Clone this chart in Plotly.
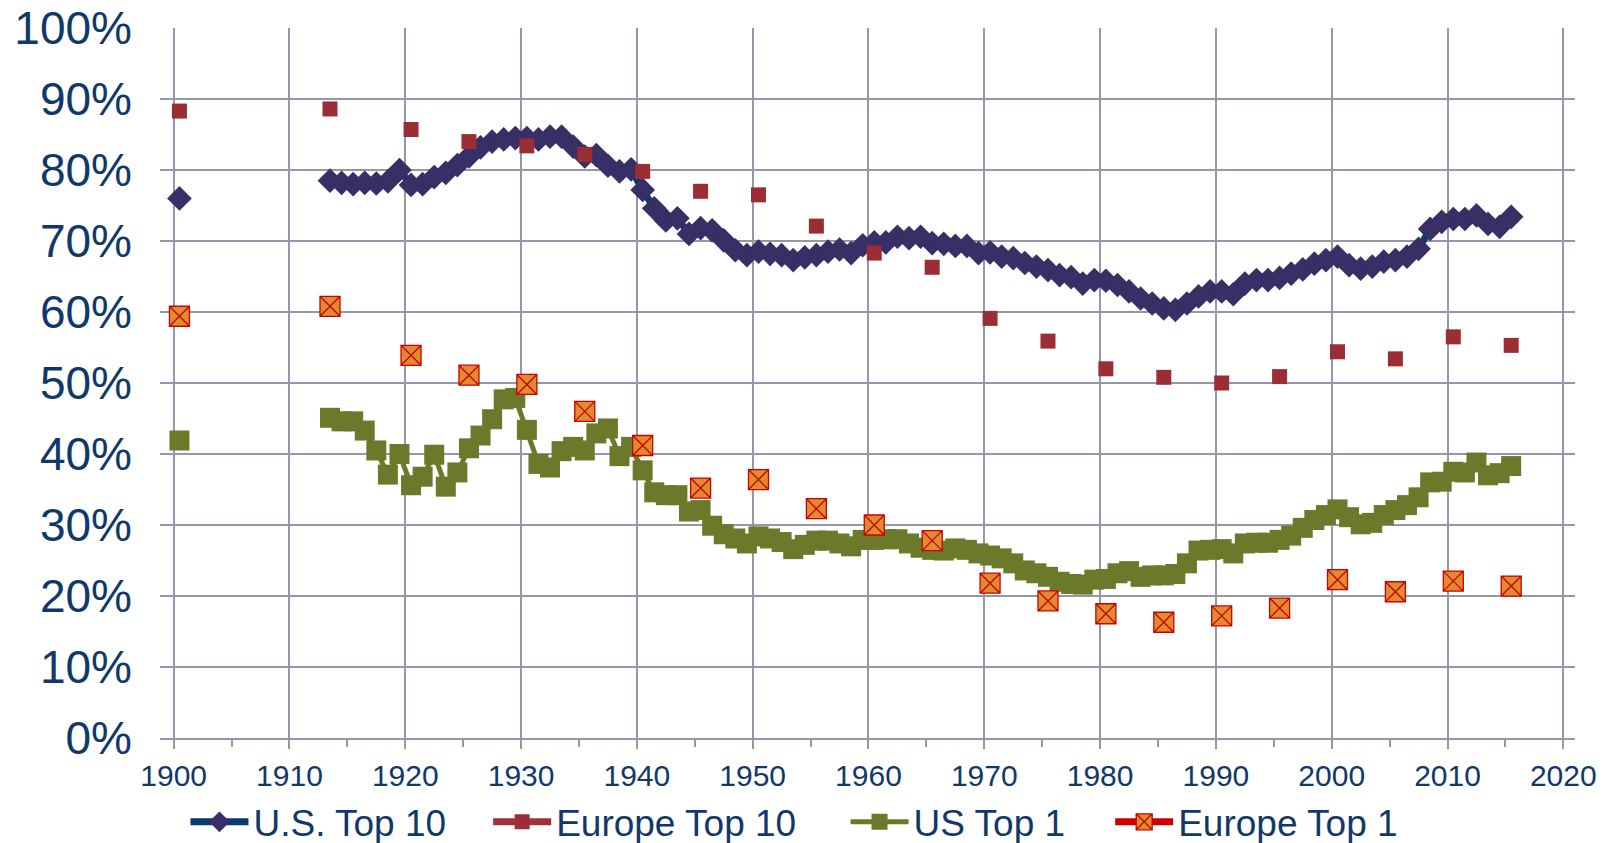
import plotly.graph_objects as go

# ---------------- data (values in %) ----------------
us_years = [1900] + list(range(1913, 2016))

us_top10 = [76.0,
    78.5, 78.2, 78.0, 78.2, 78.1, 78.4, 80.0, 77.9, 78.0, 79.0,
    79.6, 80.7, 81.9, 83.2, 84.0, 84.3, 84.5, 84.5, 84.3, 84.7,
    84.7, 83.3, 81.9, 82.1, 80.6, 79.8, 80.1, 77.2, 74.6, 72.9,
    73.2, 71.0, 71.8, 71.5, 70.1, 68.7, 68.0, 68.5, 68.2, 68.0,
    67.3, 67.7, 68.0, 68.5, 68.8, 68.3, 69.4, 69.8, 69.8, 70.6,
    70.4, 70.6, 69.7, 69.6, 69.3, 69.3, 68.3, 68.4, 67.8, 67.6,
    66.9, 66.4, 65.9, 65.2, 64.9, 64.0, 64.5, 64.4, 63.8, 62.9,
    61.9, 61.2, 60.5, 60.3, 61.2, 62.2, 62.9, 62.9, 62.5, 64.0,
    64.5, 64.5, 64.8, 65.4, 66.0, 66.8, 67.3, 67.8, 66.6, 66.1,
    66.4, 67.1, 67.3, 67.8, 68.9, 71.7, 72.7, 73.1, 73.1, 73.6,
    72.4, 72.0, 73.4]

us_top1 = [41.9,
    45.1, 44.6, 44.6, 43.3, 40.5, 37.1, 40.0, 35.6, 36.8, 39.9,
    35.4, 37.4, 40.8, 42.6, 44.9, 47.7, 47.9, 43.4, 38.6, 38.1,
    40.4, 41.0, 40.5, 42.9, 43.6, 39.7, 41.0, 37.7, 34.6, 34.2,
    34.2, 31.9, 32.1, 29.9, 28.7, 28.1, 27.4, 28.4, 28.1, 27.6,
    26.6, 27.2, 27.8, 27.8, 27.4, 27.0, 27.9, 27.9, 28.0, 28.0,
    27.4, 26.8, 26.5, 26.4, 26.7, 26.5, 26.0, 25.7, 25.3, 24.6,
    23.6, 23.2, 22.7, 22.0, 21.7, 21.6, 22.3, 22.4, 23.2, 23.5,
    22.7, 22.9, 22.9, 23.1, 24.6, 26.4, 26.5, 26.6, 26.0, 27.4,
    27.5, 27.5, 27.9, 28.5, 29.6, 30.7, 31.4, 32.2, 31.1, 30.1,
    30.3, 31.4, 32.1, 32.8, 33.9, 36.0, 36.1, 37.5, 37.4, 38.8,
    37.0, 37.3, 38.3]

eu_years = [1900, 1913] + list(range(1920, 2016, 5))

eu_top10 = [88.3, 88.6, 85.7, 84.0, 83.4, 82.2, 79.8, 77.0, 76.5, 72.1, 68.3,
            66.3, 59.1, 55.9, 52.0, 50.8, 50.0, 50.9, 54.4, 53.4, 56.5, 55.3]

eu_top1 = [59.4, 60.8, 53.9, 51.1, 49.8, 46.0, 41.2, 35.2, 36.4, 32.3, 30.0,
           27.8, 21.8, 19.3, 17.5, 16.3, 17.2, 18.3, 22.3, 20.6, 22.1, 21.4]

series_names = ["U.S. Top 10", "Europe Top 10", "US Top 1", "Europe Top 1"]

x_ticks = list(range(1900, 2021, 10))
y_ticks = list(range(0, 101, 10))


# ---------------- helpers ----------------
def with_breaks(years, values, step):
    """Insert None where consecutive years are further apart than `step`.
    Points are placed at mid-year."""
    xs, ys = [], []
    prev = None
    for yr, v in zip(years, values):
        if prev is not None and yr - prev > step:
            xs.append(None)
            ys.append(None)
        xs.append(yr + 0.5)
        ys.append(v)
        prev = yr
    return xs, ys


# spacing after each legend entry (invisible)
PADS = ["\u2002\u2002", "\u2002\u2002\u2009", "\u2002\u2002\u200A", ""]
FONT = "Arial, 'Liberation Sans', sans-serif"
TXT = "#10386A"
GRID = "#9298A9"

fig = go.Figure()

x, y = with_breaks(us_years, us_top10, 1)
fig.add_trace(go.Scatter(
    x=x, y=y, name=series_names[0] + PADS[0], mode="lines+markers", connectgaps=False,
    line=dict(color="#0B3A6E", width=7),
    marker=dict(symbol="diamond", size=19, color="#372F66",
                line=dict(width=0))))

x, y = with_breaks(eu_years, eu_top10, 0)   # every point isolated: legend shows line
fig.add_trace(go.Scatter(
    x=x, y=y, name=series_names[1] + PADS[1], mode="lines+markers", connectgaps=False,
    line=dict(color="#A0303A", width=7),
    marker=dict(symbol="square", size=15, color="#9B2D35",
                line=dict(width=0))))

x, y = with_breaks(us_years, us_top1, 1)
fig.add_trace(go.Scatter(
    x=x, y=y, name=series_names[2] + PADS[2], mode="lines+markers", connectgaps=False,
    line=dict(color="#6B7A2A", width=5),
    marker=dict(symbol="square", size=20, color="#6B7A2A",
                line=dict(width=0))))

x, y = with_breaks(eu_years, eu_top1, 0)
fig.add_trace(go.Scatter(
    x=x, y=y, name=series_names[3] + PADS[3], mode="lines+markers", connectgaps=False,
    line=dict(color="#CC0000", width=7),
    marker=dict(symbol="square-x", size=20, color="#E08B30",
                line=dict(width=1.3, color="#CC0000"))))

fig.update_layout(
    width=1619, height=843,
    margin=dict(l=160, r=44, t=28, b=105, autoexpand=False),
    paper_bgcolor="white", plot_bgcolor="white",
    font=dict(family=FONT, color=TXT),
    showlegend=True,
    legend=dict(orientation="h", x=0.018, xanchor="left", y=-0.075, yanchor="top",
                font=dict(size=37, color=TXT, family=FONT),
                itemsizing="trace", traceorder="normal",
                bgcolor="rgba(0,0,0,0)", itemwidth=58),
)

fig.update_xaxes(
    range=[1898.82, 2021.01], tickmode="array", tickvals=x_ticks,
    ticktext=[str(v) for v in x_ticks],
    showgrid=True, gridcolor=GRID, gridwidth=2,
    showline=True, linecolor=GRID, linewidth=2,
    ticks="outside", ticklen=9, tickwidth=2, tickcolor=GRID,
    tickfont=dict(size=30, color=TXT, family=FONT), ticklabelstandoff=1,
    minor=dict(dtick=5, tick0=1900, ticks="outside", ticklen=7, tickwidth=2,
               tickcolor=GRID, showgrid=False),
    zeroline=False, automargin=False,
)

fig.update_yaxes(
    range=[0, 100], tickmode="array", tickvals=y_ticks,
    ticktext=[f"{v}%" for v in y_ticks],
    showgrid=True, gridcolor=GRID, gridwidth=2,
    showline=False, ticks="", ticklabelstandoff=27,
    tickfont=dict(size=46, color=TXT, family=FONT),
    zeroline=False, automargin=False,
)

fig.write_html("out.html",
               config={"displayModeBar": False, "staticPlot": True},
               post_script="document.body.style.margin='0';"
                           "document.body.style.overflow='hidden';")
